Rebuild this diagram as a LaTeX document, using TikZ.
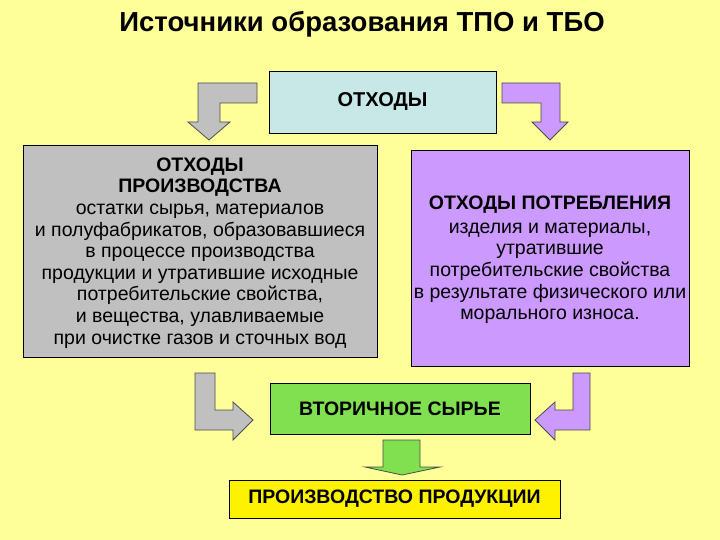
\documentclass[tikz,border=0pt]{standalone}
\usepackage{fontspec}
\setmainfont{Liberation Sans}
\begin{document}
\begin{tikzpicture}[x=1pt,y=-1pt,
 box/.style={draw=black,line width=0.8pt,inner sep=2pt,align=center},
 arr/.style={draw=black!70,line width=0.8pt}]
\definecolor{bg}{RGB}{255,255,153}
\fill[bg] (0,0) rectangle (720,540);
\useasboundingbox (0,0) rectangle (720,540);
\definecolor{cb}{RGB}{200,232,232}
\definecolor{cg}{RGB}{192,192,192}
\definecolor{cp}{RGB}{204,153,255}
\definecolor{cgr}{RGB}{128,224,80}
\node[font=\bfseries\fontsize{27.5}{30}\selectfont] (title) at (362,24) {Источники образования ТПО и ТБО};
\node[box,fill=cb,minimum width=227pt,minimum height=62pt,font=\bfseries\fontsize{20}{24}\selectfont] (o) at (382.5,102) {ОТХОДЫ};
\node[box,fill=cg,minimum width=354pt,minimum height=212pt] (l) at (200,251) {};
\node[align=center,font=\fontsize{19.5}{21.6}\selectfont] (lt) at (200,253) {\textbf{ОТХОДЫ}\\\textbf{ПРОИЗВОДСТВА}\\остатки сырья, материалов\\и полуфабрикатов, образовавшиеся\\в процессе производства\\продукции и утратившие исходные\\потребительские свойства,\\и вещества, улавливаемые\\при очистке газов и сточных вод};
\node[box,fill=cp,minimum width=278pt,minimum height=216pt] (r) at (550,258) {};
\node[align=center,font=\fontsize{19.5}{21.6}\selectfont] (rt) at (550,260) {\textbf{ОТХОДЫ ПОТРЕБЛЕНИЯ}\\[2pt]изделия и материалы,\\утратившие\\потребительские свойства\\в результате физического или\\морального износа.};
\node[box,fill=cgr,minimum width=260pt,minimum height=51pt,font=\bfseries\fontsize{19.5}{22}\selectfont] (v) at (400,408.5) {ВТОРИЧНОЕ СЫРЬЕ};
\node[box,fill=yellow,minimum width=331pt,minimum height=38pt,font=\bfseries\fontsize{19.5}{22}\selectfont] (p) at (394.5,499) {ПРОИЗВОДСТВО ПРОДУКЦИИ};
\draw[arr,fill=cg] (257,83)--(257,103)--(220,103)--(220,122)--(230,122)--(209,140)--(188,122)--(198,122)--(198,83)--cycle;
\draw[arr,fill=cp] (502,83)--(502,103)--(541,103)--(541,122)--(532,122)--(550,140)--(568,122)--(560,122)--(560,83)--cycle;
\draw[arr,fill=cg] (195,373)--(215,373)--(215,410)--(233,410)--(233,402)--(253,420)--(233,440)--(233,430)--(195,430)--cycle;
\draw[arr,fill=cp] (590,373)--(573,373)--(573,410)--(555,410)--(555,402)--(535,420)--(555,440)--(555,430)--(590,430)--cycle;
\draw[arr,fill=cgr] (383,440)--(420,440)--(420,467)--(440,467)--(402,475)--(365,467)--(383,467)--cycle;
\end{tikzpicture}
\end{document}
